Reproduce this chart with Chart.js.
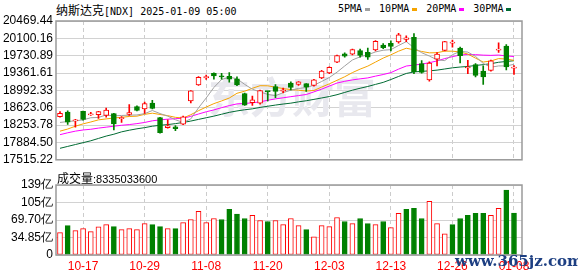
<!DOCTYPE html>
<html>
<head>
<meta charset="utf-8">
<script src="https://cdn.jsdelivr.net/npm/chart.js@4.4.1/dist/chart.umd.min.js"></script>
<style>
    body { margin: 0; background: #fff; width: 578px; height: 276px; overflow: hidden; position: relative; font-family: 'Liberation Sans', Arial, sans-serif; }
    .box { position: absolute; left: 0; width: 578px; }
    #main { top: 0; height: 170px; }
    #vol { top: 170px; height: 106px; }
    #title { position: absolute; left: 56px; top: 1px; font: 10px 'DejaVu Sans Mono', monospace; line-height: 16px; color: #000; white-space: nowrap; }
    #title .cn, #volTitle .cn { font: 12px 'Noto Sans CJK SC', sans-serif; }
    #legend { position: absolute; left: 338px; top: 1px; display: flex; align-items: center; font: 10px 'DejaVu Sans Mono', monospace; line-height: 16px; white-space: nowrap; }
    #legend .mk { display: inline-block; width: 5px; height: 3px; margin: 0 9px 0 3px; }
    #volTitle { position: absolute; left: 57px; top: 169px; font: 11px 'Liberation Sans', Arial, sans-serif; line-height: 16px; white-space: nowrap; }
    #wm { position: absolute; left: 455px; top: 252px; font: bold 15px 'DejaVu Serif', serif; color: #1d3f82; white-space: nowrap; }
</style>
</head>
<body>
<div id="title"><span class="cn">纳斯达克</span>[NDX] 2025-01-09 05:00</div>
<div id="legend"></div>
<div class="box" id="main"><canvas id="cMain"></canvas></div>
<div id="volTitle"></div>
<div class="box" id="vol"><canvas id="cVol"></canvas></div>
<div id="wm">www.365jz.com</div>
<script>
// 交易日 (10-14 ~ 01-08)
const dates = ['10-14','10-15','10-16','10-17','10-18','10-21','10-22','10-23','10-24','10-25',
    '10-28','10-29','10-30','10-31','11-01','11-04','11-05','11-06','11-07','11-08',
    '11-11','11-12','11-13','11-14','11-15','11-18','11-19','11-20','11-21','11-22',
    '11-25','11-26','11-27','11-29','12-02','12-03','12-04','12-05','12-06','12-09',
    '12-10','12-11','12-12','12-13','12-16','12-17','12-18','12-19','12-20','12-23',
    '12-24','12-26','12-27','12-30','12-31','01-02','01-03','01-06','01-07','01-08'];

const opens = [18432,18530,18345,18545,18470,18475,18462,18498,18390,18480,
    18648,18597,18724,18412,18200,18215,18275,18767,19110,19260,
    19355,19300,19290,19240,18925,18730,18720,18975,19075,18975,
    19150,19122,19135,19100,19260,19365,19595,19770,19765,19840,
    19800,19855,19955,19995,20023,20080,20120,19562,19214,19656,
    19845,19995,19895,19470,19540,19403,19415,19851,19935,19465];
const highs = [18541,18560,18375,18550,18525,18545,18618,18505,18436,18690,
    18662,18745,18782,18420,18365,18245,18445,18990,19285,19320,
    19365,19355,19370,19280,18935,18870,19000,18980,19115,19040,
    19175,19180,19140,19230,19420,19495,19745,19790,19870,19870,
    19895,20055,19990,20050,20205,20155,20200,19628,19600,19795,
    20035,20065,19915,19630,19565,19517,19640,20007,19965,19520];
const lows = [18420,18270,18210,18360,18462,18395,18424,18150,18310,18460,
    18555,18505,18600,18080,18190,18137,18265,18726,19100,19225,
    19230,19230,19170,19095,18670,18670,18700,18770,18835,18940,
    19000,19100,18970,19085,19240,19350,19580,19700,19745,19700,
    19650,19835,19880,19835,20000,20030,19350,19360,19190,19515,
    19835,19910,19575,19350,19280,19117,19400,19800,19430,19330];
const closes = [18502,18316,18367,18373,18490,18540,18573,18277,18415,18518,
    18567,18712,18608,18095,18240,18180,18432,18985,19270,19287,
    19299,19281,19231,19108,18680,18792,18987,18966,18972,19004,
    19055,19174,19060,19218,19404,19481,19735,19722,19860,19737,
    19700,20035,19903,19927,20174,20109,19393,19373,19573,19765,
    20031,20020,19730,19487,19311,19281,19622,19865,19490,19479];
const prevClose = 18342;

// 成交量 (亿)
const vols = [44.4,58.6,48.5,52.5,46.5,55.9,60.6,56.6,50.5,52.5,
    50.5,62.6,60.6,56.6,52.5,52.5,64.6,70.7,86.9,64.6,
    72.7,70.7,90.9,81.5,72.7,78.8,68.7,66.7,68.7,60.6,
    72.7,58.6,50.5,36.4,58.6,56.6,74.7,66.7,62.6,72.7,
    62.6,60.6,66.7,54.5,82.8,90.9,92.9,72.7,107.1,62.6,
    42.4,60.6,72.7,78.8,82.8,82.8,78.8,92.9,129.3,83.35];
const lastVol = '8335033600';

const ma5 = [18310,18330,18345,18365,18410,18417,18469,18451,18459,18465,
    18470,18498,18564,18500,18444,18367,18311,18386,18621,18831,
    19055,19224,19274,19241,19120,19018,18960,18907,18879,18944,
    18997,19034,19053,19102,19182,19267,19380,19512,19640,19707,
    19751,19811,19847,19860,19948,20030,19901,19795,19724,19643,
    19627,19752,19824,19807,19716,19566,19486,19513,19514,19547];
const ma10 = [18125,18170,18230,18280,18320,18365,18385,18405,18420,18437,
    18444,18483,18507,18480,18455,18419,18404,18475,18561,18638,
    18711,18768,18830,18931,18975,19037,19092,19090,19060,19032,
    19008,18997,18980,18991,19063,19132,19207,19283,19371,19445,
    19509,19595,19680,19750,19827,19890,19856,19821,19792,19795,
    19828,19827,19810,19766,19679,19596,19619,19669,19660,19632];
const ma20 = [18050,18090,18125,18150,18165,18190,18210,18230,18250,18265,
    18285,18310,18345,18365,18380,18390,18400,18440,18490,18537,
    18577,18625,18669,18705,18715,18728,18748,18783,18811,18835,
    18859,18882,18905,18961,19019,19084,19149,19186,19216,19238,
    19258,19296,19330,19371,19445,19511,19531,19552,19582,19620,
    19669,19711,19745,19758,19753,19743,19738,19745,19726,19713];
const ma30 = [17760,17800,17840,17880,17920,17970,18020,18060,18110,18145,
    18175,18200,18230,18250,18265,18285,18310,18340,18375,18410,
    18445,18485,18525,18555,18580,18600,18630,18655,18680,18702,
    18721,18749,18772,18801,18831,18862,18901,18949,18997,19038,
    19076,19120,19163,19224,19289,19353,19385,19398,19408,19424,
    19448,19473,19490,19502,19523,19540,19561,19591,19608,19624];

const maNames = ['5PMA', '10PMA', '20PMA', '30PMA'];
const maColors = ['#a0a0a0', '#f5a300', '#ff00ff', '#006b33'];
const priceTicks = [17515.22, 17884.50, 18253.78, 18623.06, 18992.33, 19361.61, 19730.89, 20100.16, 20469.44];
const volTicks = [0, 34.85, 69.70, 104.55, 139.40];
const volTickLabels = ['0', '34.85亿', '69.70亿', '105亿', '139亿'];
const tickIdx = [3, 11, 19, 27, 35, 43, 51, 59];

const RED = '#ff0000', GREEN = '#008000';
const idx = dates.map((d, i) => i);
const candleUp = opens.map((o, i) => closes[i] >= o);
const volUp = closes.map((c, i) => c >= (i === 0 ? prevClose : closes[i - 1]));

Chart.defaults.font.family = "'Liberation Sans', Arial, sans-serif";
Chart.defaults.font.size = 12;
Chart.defaults.color = '#000';

// legend + volume title
document.getElementById('legend').innerHTML = maNames.map((n, i) =>
    `<span>${n}</span><span class="mk" style="background:${maColors[i]}"></span>`).join('');
document.getElementById('volTitle').innerHTML = `<span class="cn">成交量</span>:${lastVol}`;

const frame = {
    id: 'frame',
    afterDraw(c) {
        const a = c.chartArea, ctx = c.ctx;
        ctx.save();
        ctx.strokeStyle = '#9a9a9a';
        ctx.lineWidth = 1.5;
        ctx.strokeRect(a.left, a.top, a.right - a.left, a.bottom - a.top);
        ctx.restore();
    }
};

const logo = {
    id: 'logo',
    beforeDatasetsDraw(c) {
        const a = c.chartArea, ctx = c.ctx;
        ctx.save();
        ctx.fillStyle = '#e8e8ee';
        ctx.font = "bold 42px 'Noto Sans CJK SC', sans-serif";
        ctx.textAlign = 'center';
        ctx.textBaseline = 'middle';
        ctx.fillText('东方财富', (a.left + a.right) / 2 + 3, a.top + 76);
        ctx.restore();
    }
};

function xAxis(showLabels) {
    return {
        type: 'linear', min: -0.52, max: 60.04, offset: false,
        grid: { color: '#cccccc', drawTicks: false, offset: false },
        border: { display: false, dash: [4, 3] },
        afterBuildTicks: s => { s.ticks = tickIdx.map(v => ({ value: v })); },
        afterFit: s => { s.height = showLabels ? 21 : 0; },
        ticks: { display: showLabels, color: RED, padding: 4, maxRotation: 0, autoSkip: false, callback: v => dates[v] }
    };
}

function yAxis(ticks, labels, min, max) {
    return {
        min: min, max: max,
        grid: { color: '#d2d2d2', drawTicks: false },
        border: { display: false },
        afterBuildTicks: s => { s.ticks = ticks.map(v => ({ value: v })); },
        afterFit: s => { s.width = 56; },
        ticks: { padding: 3, callback: (v, i) => labels[i] }
    };
}

const maSets = [ma5, ma10, ma20, ma30].map((d, i) => ({
    type: 'line', label: maNames[i], data: d,
    borderColor: maColors[i], borderWidth: 1, pointRadius: 0, tension: 0, order: 2
}));

new Chart(document.getElementById('cMain'), {
    type: 'bar',
    data: {
        labels: idx,
        datasets: [
            {
                label: 'body', data: opens.map((o, i) => [o, closes[i]]),
                backgroundColor: candleUp.map(u => u ? '#ffffff' : GREEN),
                borderColor: candleUp.map(u => u ? RED : GREEN),
                borderWidth: 1, borderSkipped: false, barThickness: 5, minBarLength: 1, grouped: false, order: 0
            },
            {
                label: 'wick', data: lows.map((l, i) => [l, highs[i]]),
                backgroundColor: candleUp.map(u => u ? RED : GREEN),
                barThickness: 1, grouped: false, order: 1
            },
            ...maSets
        ]
    },
    options: {
        responsive: true, maintainAspectRatio: false, animation: false, devicePixelRatio: 1,
        layout: { padding: { top: 21, bottom: 5, left: 0, right: 56 } },
        plugins: { legend: { display: false }, tooltip: { enabled: false } },
        scales: {
            x: xAxis(false),
            y: yAxis(priceTicks, priceTicks.map(v => v.toFixed(2)), priceTicks[0], priceTicks[priceTicks.length - 1])
        }
    },
    plugins: [logo, frame]
});

new Chart(document.getElementById('cVol'), {
    type: 'bar',
    data: {
        labels: idx,
        datasets: [{
            label: 'vol', data: vols,
            backgroundColor: volUp.map(u => u ? '#ffffff' : GREEN),
            borderColor: volUp.map(u => u ? RED : GREEN),
            borderWidth: 1, borderSkipped: false, barThickness: 5, grouped: false
        }]
    },
    options: {
        responsive: true, maintainAspectRatio: false, animation: false, devicePixelRatio: 1,
        layout: { padding: { top: 15, bottom: 0, left: 0, right: 56 } },
        plugins: { legend: { display: false }, tooltip: { enabled: false } },
        scales: {
            x: xAxis(true),
            y: yAxis(volTicks, volTickLabels, 0, 139.40)
        }
    },
    plugins: [frame]
});
</script>
</body>
</html>
